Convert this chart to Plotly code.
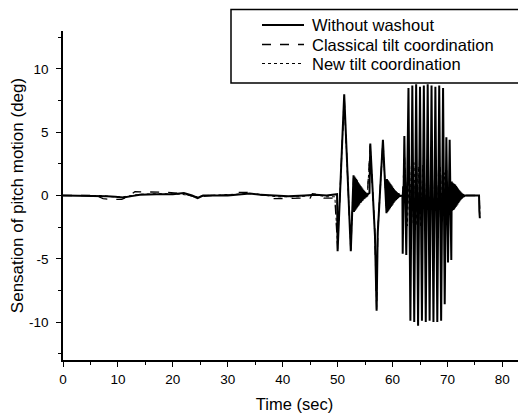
import plotly.graph_objects as go

# ---- data ----
# "Without washout" (solid) — pieces in time order
t_calm = [0, 5, 8, 9.5, 11, 12.5, 14, 17, 20, 22, 23.5, 24.5, 25.5, 30, 32, 34, 36, 39, 41, 44, 46, 48, 49.5, 49.9]
y_calm = [0, 0, -0.05, -0.1, -0.15, -0.05, 0.05, 0.1, 0.1, 0.2, 0.0, -0.2, 0.0, 0.0, 0.05, 0.15, 0.05, 0.0, -0.05, 0.0, 0.05, 0.0, 0.05, 0.1]

t_pulse1 = [50.0, 51.2, 52.4, 52.9]
y_pulse1 = [-4.4, 8.0, -4.4, 1.6]

t_ring1 = [52.98, 53.06, 53.14, 53.22, 53.30, 53.38, 53.46, 53.54, 53.62, 53.70, 53.78, 53.86, 53.94, 54.02, 54.10, 54.18,
           54.26, 54.34, 54.42, 54.50, 54.58, 54.66, 54.74, 54.82, 54.90, 54.98, 55.06, 55.14, 55.22, 55.30, 55.38, 55.46]
y_ring1 = [-1.3, 1.5, -1.2, 1.4, -1.1, 1.3, -1.0, 1.2, -0.9, 1.05, -0.8, 0.95, -0.7, 0.85, -0.6, 0.75,
           -0.55, 0.65, -0.45, 0.55, -0.4, 0.45, -0.3, 0.38, -0.25, 0.3, -0.18, 0.22, -0.12, 0.15, -0.05, 0.08]

t_pulse2 = [55.8, 55.95, 56.8, 57.1, 57.3, 58.25, 58.9]
y_pulse2 = [0.2, 4.1, -3.2, -9.1, -3.0, 4.4, -1.4]

t_ring2 = [58.98, 59.06, 59.14, 59.22, 59.30, 59.38, 59.46, 59.54, 59.62, 59.70, 59.78, 59.86, 59.94, 60.02, 60.10,
           60.18, 60.26, 60.34, 60.42, 60.50, 60.58, 60.66, 60.74, 60.82, 60.90, 60.98, 61.06, 61.14, 61.22, 61.30, 61.8]
y_ring2 = [1.3, -1.3, 1.2, -1.2, 1.1, -1.1, 1.0, -1.0, 0.9, -0.9, 0.8, -0.8, 0.7, -0.7, 0.6,
           -0.6, 0.5, -0.5, 0.42, -0.42, 0.35, -0.35, 0.28, -0.28, 0.2, -0.2, 0.14, -0.14, 0.08, -0.05, 0.0]

t_burst = [61.85, 62.15, 62.5, 62.9, 63.25, 63.6, 63.95, 64.3, 64.65, 65.0, 65.35, 65.7, 66.05, 66.4, 66.75, 67.1,
           67.45, 67.8, 68.15, 68.5, 68.85, 69.2, 69.5, 69.8, 70.1, 70.4, 70.7]
y_burst = [-4.6, 4.7, -4.7, 8.5, -9.9, 8.7, -10.0, 8.8, -10.3, 8.6, -9.9, 8.7, -10.0, 8.8, -9.9, 8.7,
           -10.0, 8.6, -10.0, 8.7, -9.9, 8.5, -8.6, 4.6, -5.3, 4.4, -5.1]

t_ring3 = [70.78, 70.86, 70.94, 71.02, 71.10, 71.18, 71.26, 71.34, 71.42, 71.50, 71.58, 71.66, 71.74, 71.82, 71.90,
           71.98, 72.06, 72.14, 72.22, 72.30, 72.38, 72.46, 72.54, 72.62, 72.70, 72.78, 72.86, 72.94, 73.02, 73.10, 73.3]
y_ring3 = [1.1, -1.2, 1.0, -1.15, 0.95, -1.1, 0.9, -1.0, 0.85, -0.9, 0.75, -0.8, 0.65, -0.7, 0.55,
           -0.6, 0.45, -0.5, 0.38, -0.4, 0.3, -0.32, 0.22, -0.24, 0.15, -0.16, 0.1, -0.1, 0.05, -0.05, 0.0]

t_end = [75.75, 75.8, 75.9]
y_end = [0.0, -1.2, -1.8]

t_without = t_calm + t_pulse1 + t_ring1 + t_pulse2 + t_ring2 + t_burst + t_ring3 + t_end
y_without = y_calm + y_pulse1 + y_ring1 + y_pulse2 + y_ring2 + y_burst + y_ring3 + y_end

# "Classical tilt coordination" (dashed)
t_classical = [0, 6, 7.3, 8.5, 10.7, 12, 13.1, 16, 19, 21.9, 23.5, 24.3, 25, 27, 31, 31.7, 33.5, 35.5, 37, 38, 41, 45, 45.4,
               46.8, 47.5, 49, 49.5,
               50.0, 51.2, 52.4, 52.9, 53.5, 54.0, 55.4, 55.95, 56.8, 57.1, 57.3, 58.25, 58.9, 59.5, 61.8,
               62.2, 62.5, 62.85, 63.2, 63.55, 63.9, 64.25, 64.6, 64.95, 65.3, 65.65, 66.0, 66.35, 66.7, 67.05, 67.4,
               67.75, 68.1, 68.45, 68.8, 69.15, 69.5, 69.85, 70.2, 70.6, 71.2, 72.0, 75.8, 75.9]
y_classical = [0, 0, -0.25, -0.3, -0.3, -0.05, 0.3, 0.3, 0.25, 0.15, -0.05, -0.15, -0.1, 0.0, 0.05, 0.25, 0.25, 0.1, 0.0, -0.25, -0.25, -0.2, 0.15,
               0.05, -0.2, -0.2, -0.2,
               -4.2, 7.8, -4.3, 1.4, -0.8, 0.6, 0.0, 4.0, -3.2, -9.0, -3.0, 4.3, -1.3, 0.6, 0.0,
               3.0, -3.2, 3.1, -2.8, 3.3, -3.0, 2.9, -3.1, 3.2, -2.9, 3.0, -3.1, 3.2, -2.8, 3.0, -3.2,
               2.9, -3.0, 3.1, -2.9, 2.8, -2.6, 2.0, -1.5, 0.8, -0.3, 0.0, 0.0, -1.6]

# "New tilt coordination" (dotted)
t_new = [0, 7, 9, 11, 14, 18, 21.5, 23, 24.5, 26, 32, 34, 36, 39, 43, 46, 48, 49.5,
         50.0, 51.2, 52.4, 52.9, 53.5, 54.0, 55.4, 55.95, 56.8, 57.1, 57.3, 58.25, 58.9, 59.5, 61.8,
         62.3, 62.7, 63.1, 63.5, 63.9, 64.3, 64.7, 65.1, 65.5, 65.9, 66.3, 66.7, 67.1, 67.5, 67.9, 68.3,
         68.7, 69.1, 69.5, 69.9, 70.4, 71.0, 72.0, 75.8, 75.9]
y_new = [0, 0, -0.1, -0.1, 0.1, 0.15, 0.1, 0.0, -0.1, 0.0, 0.1, 0.15, 0.05, -0.1, -0.1, 0.05, -0.1, -0.1,
         -4.0, 7.6, -4.2, 1.2, -0.6, 0.4, 0.0, 3.9, -3.0, -8.8, -2.8, 4.2, -1.2, 0.5, 0.0,
         2.2, -2.4, 2.5, -2.3, 2.6, -2.4, 2.3, -2.5, 2.4, -2.2, 2.5, -2.4, 2.3, -2.5, 2.4, -2.2,
         2.3, -2.1, 1.8, -1.3, 0.7, -0.2, 0.0, 0.0, -1.5]

x_ticks = [0, 10, 20, 30, 40, 50, 60, 70, 80]
y_ticks = [-10, -5, 0, 5, 10]
y_tick_labels = ["-10", "-5", "0", "5", "10"]
legend_names = ["Without washout", "Classical tilt coordination", "New tilt coordination"]

FONT = "Liberation Sans, Arial, Helvetica, sans-serif"
styles = [dict(width=2.0, dash="solid"), dict(width=1.3, dash="dash"), dict(width=1.0, dash="dot")]

fig = go.Figure()
fig.add_trace(go.Scatter(x=t_new, y=y_new, mode="lines", name=legend_names[2],
                         line=dict(color="black", **styles[2])))
fig.add_trace(go.Scatter(x=t_classical, y=y_classical, mode="lines", name=legend_names[1],
                         line=dict(color="black", **styles[1])))
fig.add_trace(go.Scatter(x=t_without, y=y_without, mode="lines", name=legend_names[0],
                         line=dict(color="black", **styles[0])))

# legend drawn as a framed box with sample lines and texts (paper coordinates)
PLOT_W, PLOT_H, L, T = 463, 329, 55, 23
def px_x(px):  # page px -> paper x (page has an 8px body margin)
    return (px - 8 - L) / PLOT_W
def px_y(py):
    return (T + PLOT_H - (py - 8)) / PLOT_H

shapes = [dict(type="rect", xref="paper", yref="paper", x0=px_x(231), x1=px_x(530), y0=px_y(83), y1=px_y(9.5),
               line=dict(color="black", width=1.5), fillcolor="rgba(0,0,0,0)", layer="above")]
annotations = []
for name, st, row in zip(legend_names, styles, [25, 44.5, 63.5]):
    shapes.append(dict(type="line", xref="paper", yref="paper", x0=px_x(262), x1=px_x(304),
                       y0=px_y(row), y1=px_y(row), line=dict(color="black", width=st["width"], dash=st["dash"])))
    annotations.append(dict(text=name, xref="paper", yref="paper", x=px_x(310), y=px_y(row),
                            xanchor="left", yanchor="middle", showarrow=False,
                            font=dict(size=16.5, family=FONT, color="black")))

fig.update_layout(
    width=518, height=405,
    margin=dict(l=L, r=0, t=T, b=53, autoexpand=False),
    paper_bgcolor="white", plot_bgcolor="white",
    font=dict(family=FONT, color="black", size=13.5),
    showlegend=False,
    xaxis=dict(range=[0, 84.3], tickvals=x_ticks, ticks="outside", ticklen=5, tickwidth=1.2,
               tickcolor="black", showline=True, linecolor="black", linewidth=1.5,
               showgrid=False, zeroline=False, tickfont=dict(size=13.5), ticklabelstandoff=1,
               minor=dict(dtick=5, ticks="outside", ticklen=3, tickcolor="black", tickwidth=1),
               title=dict(text="Time (sec)", font=dict(size=16.5), standoff=12)),
    yaxis=dict(range=[-13, 13], tickvals=y_ticks, ticktext=y_tick_labels, ticks="outside", ticklen=5,
               tickwidth=1.2, tickcolor="black", showline=True, linecolor="black", linewidth=1.5,
               showgrid=False, zeroline=False, tickfont=dict(size=13.5), ticklabelstandoff=5,
               minor=dict(dtick=2.5, ticks="outside", ticklen=3, tickcolor="black", tickwidth=1),
               title=dict(text="Sensation of pitch motion (deg)", font=dict(size=17), standoff=8)),
    shapes=shapes,
    annotations=annotations,
)

fig.write_html("out.html")
